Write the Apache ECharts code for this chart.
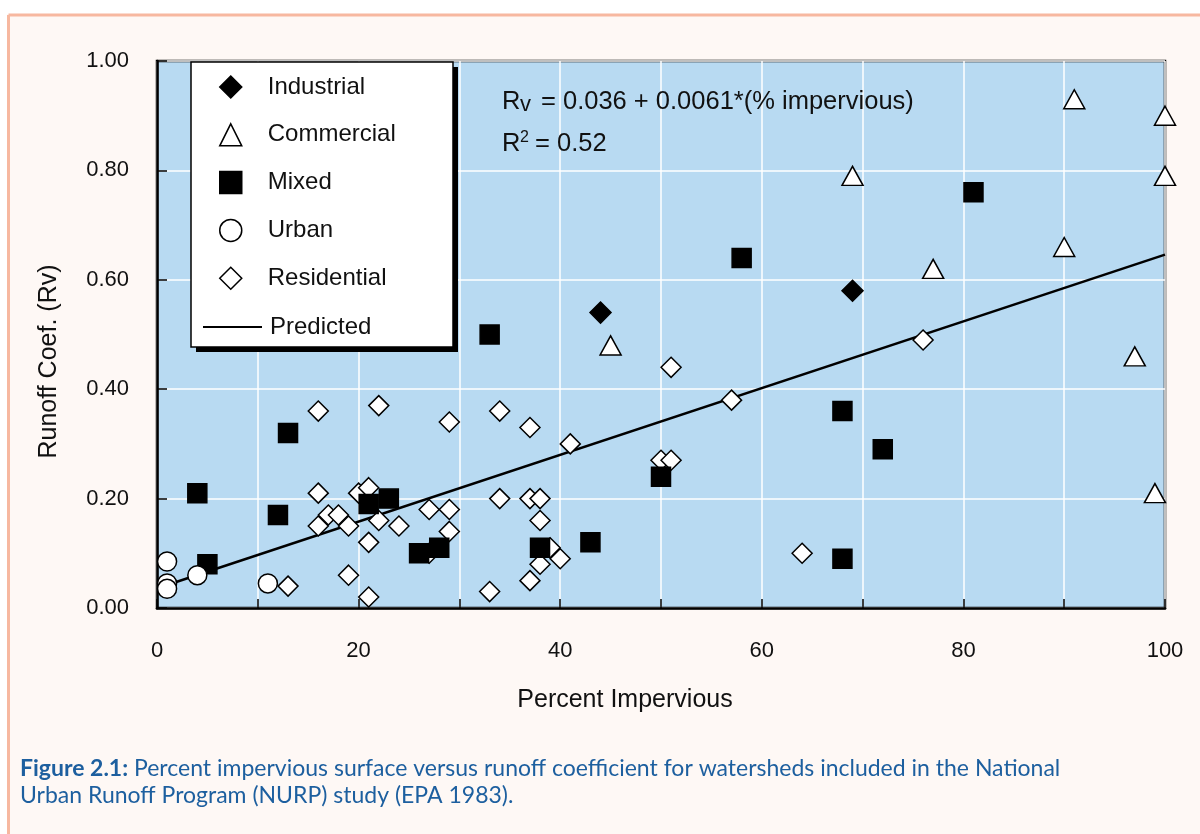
<!DOCTYPE html>
<html>
<head>
<meta charset="utf-8">
<script src="https://cdn.jsdelivr.net/npm/echarts@6.0.0/dist/echarts.min.js"></script>
<style>
html, body { margin: 0; padding: 0; background: #fff; }
#main { width: 1200px; height: 834px; }
</style>
</head>
<body>
<div id="main"></div>
<script>
// values: [percent impervious, runoff coefficient]
var industrial = [[44, 0.54], [69, 0.58]];
var commercial = [[45, 0.48], [69, 0.79], [77, 0.62], [90, 0.66], [91, 0.93],
    [97, 0.46], [99, 0.21], [100, 0.90], [100, 0.79]];
var mixed = [[4, 0.21], [5, 0.08], [12, 0.17], [13, 0.32], [21, 0.19], [23, 0.20],
    [26, 0.10], [28, 0.11], [33, 0.50], [38, 0.11], [43, 0.12], [50, 0.24],
    [58, 0.64], [68, 0.36], [68, 0.09], [72, 0.29], [81, 0.76]];
var urban = [[1, 0.085], [1, 0.045], [1, 0.035], [4, 0.06], [11, 0.045]];
var residential = [[16, 0.36], [22, 0.37], [29, 0.34], [34, 0.36], [37, 0.33],
    [41, 0.30], [51, 0.44], [57, 0.38], [76, 0.49], [16, 0.21], [20, 0.21],
    [21, 0.22], [17, 0.17], [18, 0.17], [16, 0.15], [19, 0.15], [22, 0.16],
    [24, 0.15], [27, 0.18], [29, 0.18], [29, 0.14], [21, 0.12], [27, 0.10],
    [34, 0.20], [37, 0.20], [38, 0.20], [38, 0.16], [39, 0.11], [40, 0.09],
    [38, 0.08], [37, 0.05], [33, 0.03], [19, 0.06], [13, 0.04], [21, 0.02],
    [50, 0.27], [51, 0.27], [64, 0.10]];
var predicted = [[1, 0.042], [100, 0.646]];

var legendNames = ['Industrial', 'Commercial', 'Mixed', 'Urban', 'Residential'];

var FONT = '"Liberation Sans", Arial, sans-serif';
var txt = '#111';

function pts(name, data, symbol, size, fill) {
    return {
        name: name,
        type: 'scatter',
        data: data,
        symbol: symbol,
        symbolSize: size,
        itemStyle: { color: fill, borderColor: '#000', borderWidth: 1.5, opacity: 1 },
        emphasis: { disabled: true }
    };
}

var myChart = echarts.init(document.getElementById('main'));
myChart.setOption({
    backgroundColor: '#FEF8F5',
    animation: false,
    grid: {
        left: 157, right: 35, top: 61, bottom: 226,
        show: true, backgroundColor: '#B8DAF2',
        borderColor: '#000', borderWidth: 2.5
    },
    xAxis: {
        type: 'value', min: 0, max: 100, interval: 10,
        name: 'Percent Impervious', nameLocation: 'middle', nameGap: 80,
        nameTextStyle: { fontFamily: FONT, fontSize: 25, color: txt, padding: [0, 72, 0, 0] },
        axisLine: { lineStyle: { color: '#000', width: 2.5 } },
        axisTick: { inside: true, length: 9, lineStyle: { color: '#000', width: 1.5 } },
        axisLabel: {
            margin: 32, fontFamily: FONT, fontSize: 22, color: txt,
            formatter: function (v) { return v % 20 === 0 ? String(v) : ''; }
        },
        splitLine: { lineStyle: { color: '#fff', width: 1.5 } }
    },
    yAxis: {
        type: 'value', min: 0, max: 1, interval: 0.2,
        name: 'Runoff Coef. (Rv)', nameLocation: 'middle', nameGap: 95,
        nameTextStyle: { fontFamily: FONT, fontSize: 25, color: txt, padding: [0, 54, 0, 0] },
        axisLine: { show: true, lineStyle: { color: '#000', width: 2.5 } },
        axisTick: { show: true, inside: true, length: 10, lineStyle: { color: '#000', width: 1.5 } },
        axisLabel: {
            margin: 28, fontFamily: FONT, fontSize: 22, color: txt,
            formatter: function (v) { return v.toFixed(2); }
        },
        splitLine: { lineStyle: { color: '#fff', width: 1.5 } }
    },
    legend: [{
        data: legendNames,
        orient: 'vertical', left: 214, top: 70, padding: 5,
        itemWidth: 22, itemHeight: 22, itemGap: 23.8,
        itemStyle: { borderWidth: 1.5 },
        textStyle: { fontFamily: FONT, fontSize: 24, color: txt, lineHeight: 24, padding: [0, 0, 0, 21] },
        selectedMode: false
    }, {
        data: ['Predicted'],
        orient: 'vertical', left: 197, top: 310, padding: 5,
        itemWidth: 59, itemHeight: 14,
        itemStyle: { opacity: 0 },
        textStyle: { fontFamily: FONT, fontSize: 24, color: txt, lineHeight: 24, padding: [0, 0, 0, 3] },
        selectedMode: false
    }],
    graphic: [
        { type: 'rect', shape: { x: 0, y: 0, width: 1200, height: 14 }, style: { fill: '#fff' }, silent: true },
        { type: 'rect', shape: { x: 0, y: 0, width: 7, height: 834 }, style: { fill: '#fff' }, silent: true },
        { type: 'line', shape: { x1: 8.5, y1: 15, x2: 1200, y2: 15 }, style: { stroke: '#F7B8A0', lineWidth: 3 }, silent: true },
        { type: 'line', shape: { x1: 8.5, y1: 15, x2: 8.5, y2: 834 }, style: { stroke: '#F7B8A0', lineWidth: 3 }, silent: true },
        { type: 'rect', z: 2, shape: { x: 196, y: 67, width: 262, height: 285 }, style: { fill: '#000' }, silent: true },
        { type: 'rect', z: 3, shape: { x: 191, y: 62, width: 262, height: 285 }, style: { fill: '#fff', stroke: '#000', lineWidth: 1.5 }, silent: true },
        { type: 'text', z: 5, x: 502, y: 102, style: { text: 'R', fontFamily: FONT, fontSize: 25.5, fill: txt, verticalAlign: 'middle' } },
        { type: 'text', z: 5, x: 520, y: 105, style: { text: 'v', fontFamily: FONT, fontSize: 22, fill: txt, verticalAlign: 'middle' } },
        { type: 'text', z: 5, x: 541, y: 102, style: { text: '= 0.036 + 0.0061*(% impervious)', fontFamily: FONT, fontSize: 25.5, fill: txt, verticalAlign: 'middle' } },
        { type: 'text', z: 5, x: 502, y: 144, style: { text: 'R', fontFamily: FONT, fontSize: 25.5, fill: txt, verticalAlign: 'middle' } },
        { type: 'text', z: 5, x: 520, y: 138, style: { text: '2', fontFamily: FONT, fontSize: 16, fill: txt, verticalAlign: 'middle' } },
        { type: 'text', z: 5, x: 535, y: 144, style: { text: '= 0.52', fontFamily: FONT, fontSize: 25.5, fill: txt, verticalAlign: 'middle' } },
        {
            type: 'text', x: 20, y: 755,
            style: {
                text: '{b|Figure 2.1:} Percent impervious surface versus runoff coefficient for watersheds included in the National\nUrban Runoff Program (NURP) study (EPA 1983).',
                fontFamily: 'Lato, "Open Sans", sans-serif', fontSize: 23, lineHeight: 27, fill: '#1D5F9F',
                rich: { b: { fontFamily: 'Lato, "Open Sans", sans-serif', fontSize: 23, lineHeight: 27, fontWeight: 'bold', fill: '#1D5F9F' } }
            }
        }
    ],
    series: [
        {
            name: 'Predicted', type: 'line', data: predicted, symbol: 'none',
            lineStyle: { color: '#000', width: 2.5 }, itemStyle: { color: '#000' },
            emphasis: { disabled: true }, z: 1
        },
        pts('Residential', residential, 'diamond', 20, '#fff'),
        pts('Mixed', mixed, 'rect', 19, '#000'),
        pts('Urban', urban, 'circle', 19, '#fff'),
        pts('Commercial', commercial, 'triangle', [21, 19], '#fff'),
        pts('Industrial', industrial, 'diamond', 21, '#000')
    ]
});
</script>
</body>
</html>
